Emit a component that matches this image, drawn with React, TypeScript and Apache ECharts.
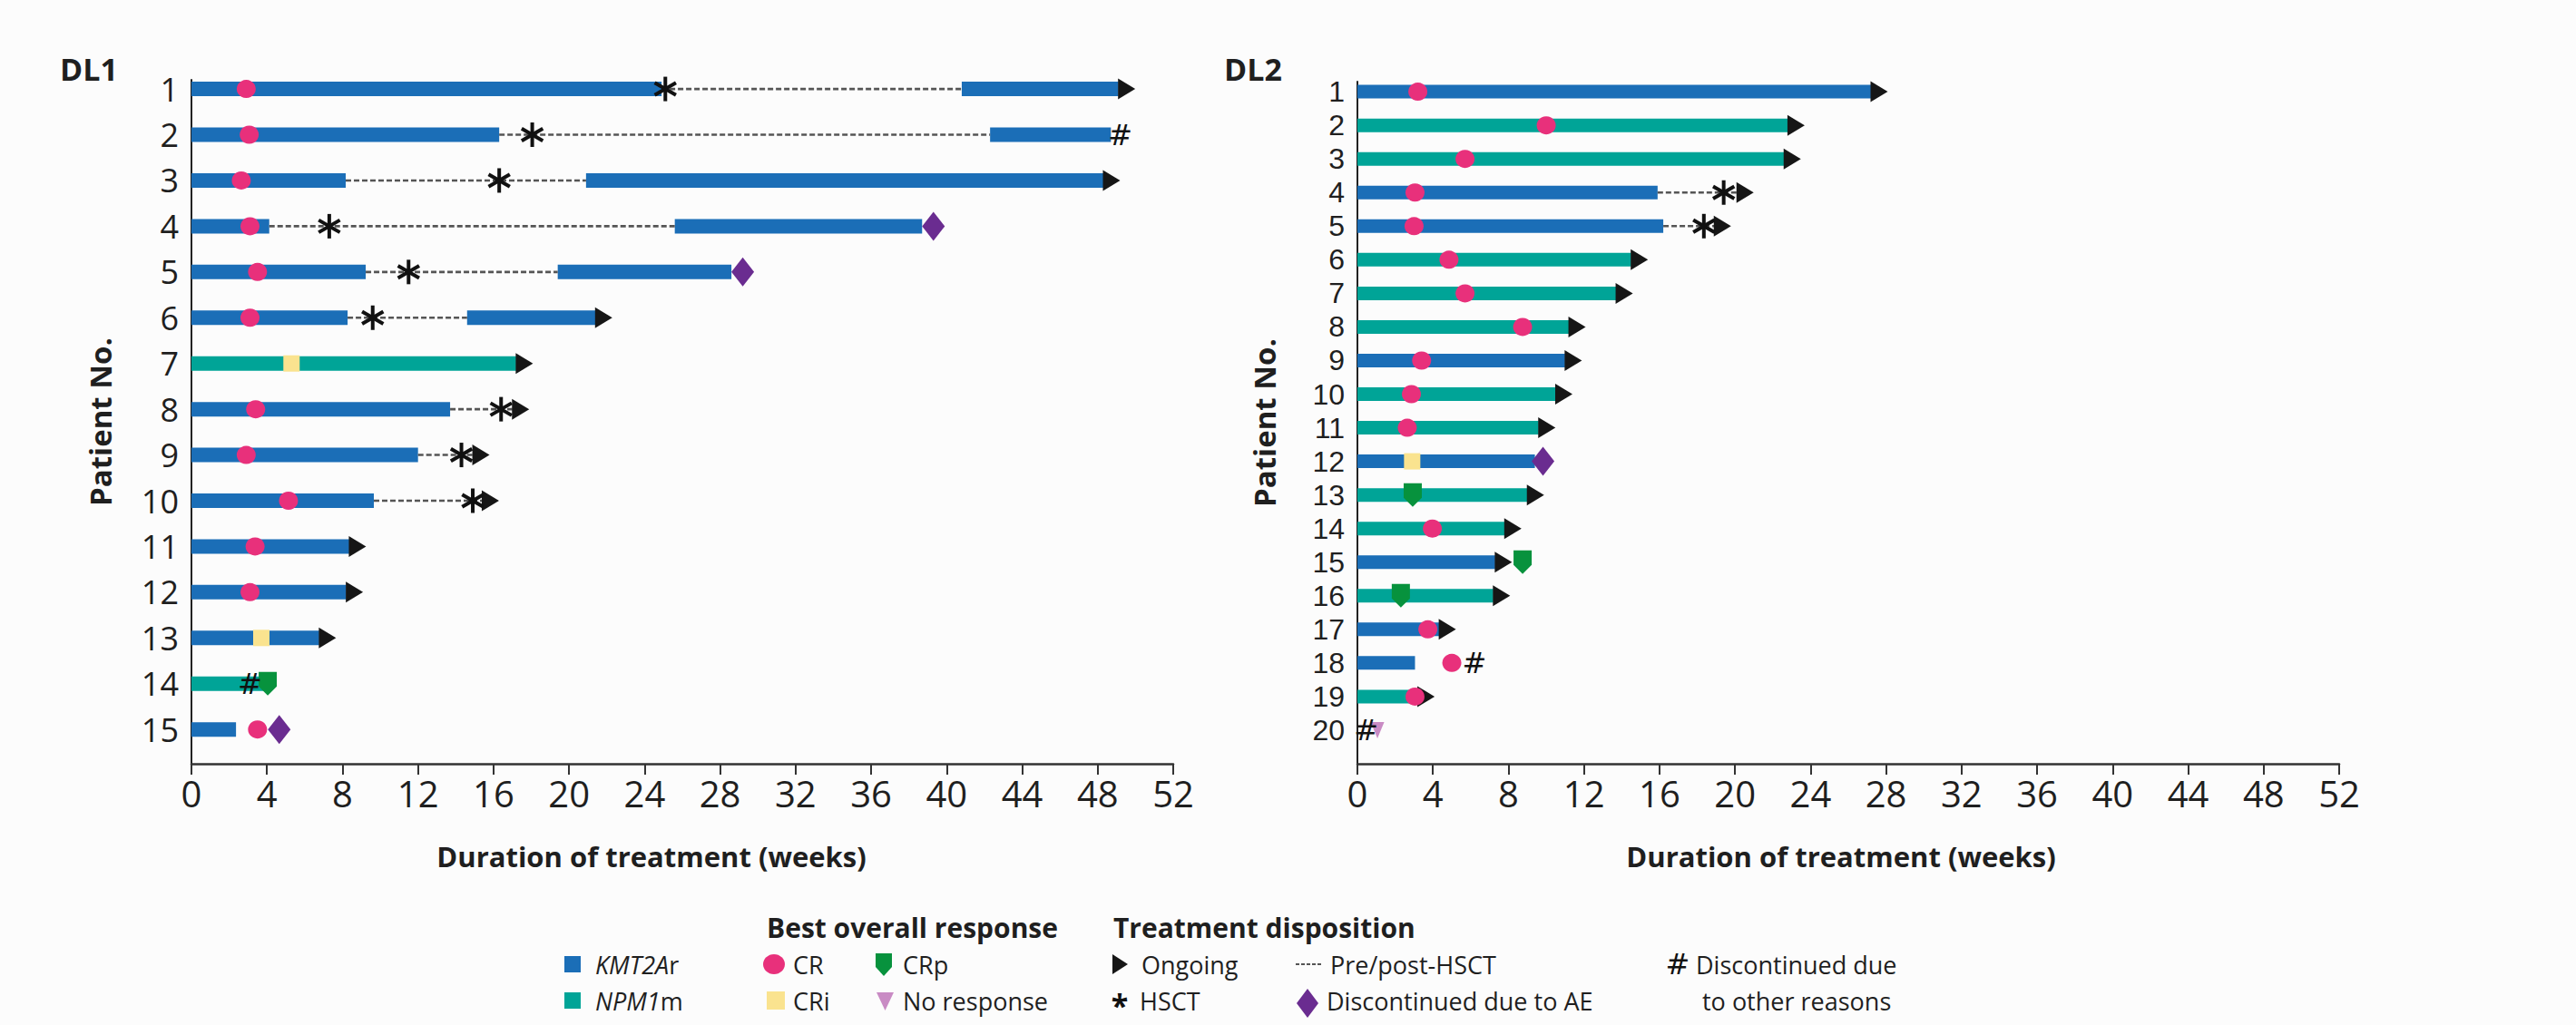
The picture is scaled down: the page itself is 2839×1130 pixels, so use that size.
import React, { useEffect, useRef } from "react";
import * as echarts from "echarts";

const FONT = '"Open Sans", "Noto Sans", sans-serif';
const TIGHT_FONT = '"Liberation Sans", Arial, sans-serif';

// ---------- axis data ----------
const dl1Patients = [1, 2, 3, 4, 5, 6, 7, 8, 9, 10, 11, 12, 13, 14, 15];
const dl2Patients = [1, 2, 3, 4, 5, 6, 7, 8, 9, 10, 11, 12, 13, 14, 15, 16, 17, 18, 19, 20];

// ---------- DL1 ----------
// treatment segments: [start week, end week, patient]
const dl1Kmt2a = [
  [0, 24.9, 1], [40.8, 49.1, 1],
  [0, 16.3, 2], [42.3, 48.7, 2],
  [0, 8.17, 3], [20.9, 48.3, 3],
  [0, 4.12, 4], [25.6, 38.7, 4],
  [0, 9.23, 5], [19.4, 28.6, 5],
  [0, 8.27, 6], [14.6, 21.4, 6],
  [0, 13.7, 8],
  [0, 12.0, 9],
  [0, 9.66, 10],
  [0, 8.36, 11],
  [0, 8.2, 12],
  [0, 6.77, 13],
  [0, 2.36, 15],
];
const dl1Npm1 = [
  [0, 17.2, 7],
  [0, 3.9, 14],
];
const dl1PrePostHsct = [
  [24.9, 40.8, 1], [16.3, 42.3, 2], [8.17, 20.9, 3], [4.12, 25.6, 4], [9.23, 19.4, 5],
  [8.27, 14.6, 6], [13.7, 17.0, 8], [12.0, 14.9, 9], [9.66, 15.4, 10],
];
// markers: [week, patient]
const dl1CR = [[2.9, 1], [3.06, 2], [2.64, 3], [3.1, 4], [3.5, 5], [3.1, 6], [3.4, 8], [2.9, 9], [5.14, 10], [3.37, 11], [3.1, 12], [3.5, 15]];
const dl1CRi = [[5.3, 7], [3.7, 13]];
const dl1CRp = [[4.04, 14]];
const dl1NoResponse: number[][] = [];
const dl1Ongoing = [[49.1, 1], [48.3, 3], [21.4, 6], [17.2, 7], [17.0, 8], [14.9, 9], [15.4, 10], [8.36, 11], [8.2, 12], [6.77, 13]];
const dl1HSCT = [[25.1, 1], [18.05, 2], [16.3, 3], [7.3, 4], [11.5, 5], [9.6, 6], [16.4, 8], [14.3, 9], [14.9, 10]];
const dl1AE = [[39.3, 4], [29.2, 5], [4.65, 15]];
const dl1Other = [[49.2, 2], [3.1, 14]];

// ---------- DL2 ----------
const dl2Kmt2a = [
  [0, 27.2, 1], [0, 15.9, 4], [0, 16.2, 5], [0, 11.0, 9], [0, 9.4, 12],
  [0, 7.3, 15], [0, 4.33, 17], [0, 3.05, 18],
];
const dl2Npm1 = [
  [0, 22.8, 2], [0, 22.6, 3], [0, 14.5, 6], [0, 13.7, 7], [0, 11.2, 8], [0, 10.5, 10],
  [0, 9.6, 11], [0, 9.0, 13], [0, 7.8, 14], [0, 7.2, 16], [0, 3.2, 19],
];
const dl2PrePostHsct = [[15.9, 20.1, 4], [16.2, 18.9, 5]];
const dl2CR = [[3.2, 1], [10.0, 2], [5.7, 3], [3.05, 4], [3.0, 5], [4.85, 6], [5.7, 7], [8.75, 8], [3.4, 9], [2.86, 10], [2.64, 11], [3.97, 14], [3.73, 17], [5.0, 18], [3.05, 19]];
const dl2CRi = [[2.9, 12]];
const dl2CRp = [[2.93, 13], [8.75, 15], [2.3, 16]];
const dl2NoResponse = [[1.06, 20]];
const dl2Ongoing = [[27.2, 1], [22.8, 2], [22.6, 3], [20.1, 4], [18.9, 5], [14.5, 6], [13.7, 7], [11.2, 8], [11.0, 9], [10.5, 10], [9.6, 11], [9.0, 13], [7.8, 14], [7.3, 15], [7.2, 16], [4.33, 17], [3.2, 19]];
const dl2HSCT = [[19.4, 4], [18.35, 5]];
const dl2AE = [[9.83, 12]];
const dl2Other = [[6.2, 18], [0.46, 20]];

// ---------- styles ----------
const C_KMT = "#1b6eb7";
const C_NPM = "#00a497";
const C_CR = "#e8307b";
const C_CRI = "#fae38f";
const C_CRP = "#07923d";
const C_NR = "#c98bc4";
const C_AE = "#6a2c90";
const C_ARROW = "#161616";
const C_TEXT = "#1f1f1f";
const C_DASH = "#555";

const ARROW_PATH = "path://M0,0 L10,6 L0,12 Z";
const CRP_PATH = "path://M0,0 L10,0 L10,8 L5,13 L0,8 Z";
const NR_PATH = "path://M0,0 L10,0 L5,12 Z";

function barRenderer(color: string, h: number) {
  return (params: any, api: any) => {
    const s = api.coord([api.value(0), api.value(2)]);
    const e = api.coord([api.value(1), api.value(2)]);
    return {
      type: "rect",
      shape: { x: s[0], y: s[1] - h / 2, width: e[0] - s[0], height: h },
      style: { fill: color },
    };
  };
}

function dashRenderer(params: any, api: any) {
  const s = api.coord([api.value(0), api.value(2)]);
  const e = api.coord([api.value(1), api.value(2)]);
  return {
    type: "line",
    shape: { x1: s[0], y1: s[1], x2: e[0], y2: e[1] },
    style: { stroke: C_DASH, lineWidth: 2.6, lineDash: [6, 3] },
  };
}

function asteriskRenderer(params: any, api: any) {
  const c = api.coord([api.value(0), api.value(1)]);
  const r = 13.5;
  const dx = r * Math.cos(Math.PI / 6);
  const dy = r * Math.sin(Math.PI / 6);
  const st = { stroke: "#111", lineWidth: 4 };
  return {
    type: "group",
    children: [
      { type: "line", shape: { x1: c[0], y1: c[1] - r, x2: c[0], y2: c[1] + r }, style: st },
      { type: "line", shape: { x1: c[0] - dx, y1: c[1] - dy, x2: c[0] + dx, y2: c[1] + dy }, style: st },
      { type: "line", shape: { x1: c[0] - dx, y1: c[1] + dy, x2: c[0] + dx, y2: c[1] - dy }, style: st },
    ],
  };
}

function hashRenderer(params: any, api: any) {
  const c = api.coord([api.value(0), api.value(1)]);
  return {
    type: "text",
    x: c[0],
    y: c[1],
    style: {
      text: "#",
      fill: "#111",
      fontSize: 32,
      fontFamily: '"DejaVu Sans", sans-serif',
      align: "center",
      verticalAlign: "middle",
    },
  };
}

function panelSeries(idx: number, d: any, barH: number) {
  const ax = { xAxisIndex: idx, yAxisIndex: idx };
  return [
    { type: "custom", name: "KMT2Ar", ...ax, data: d.kmt, encode: { x: [0, 1], y: 2 }, renderItem: barRenderer(C_KMT, barH), z: 2 },
    { type: "custom", name: "NPM1m", ...ax, data: d.npm, encode: { x: [0, 1], y: 2 }, renderItem: barRenderer(C_NPM, barH), z: 2 },
    { type: "custom", name: "Pre/post-HSCT", ...ax, data: d.dash, encode: { x: [0, 1], y: 2 }, renderItem: dashRenderer, z: 2 },
    { type: "scatter", name: "Ongoing", ...ax, data: d.ongoing, symbol: ARROW_PATH, symbolSize: [19, 23], symbolOffset: [9, 0], itemStyle: { color: C_ARROW, opacity: 1 }, z: 4 },
    { type: "scatter", name: "CR", ...ax, data: d.cr, symbol: "circle", symbolSize: [21, 20], itemStyle: { color: C_CR, opacity: 1 }, z: 5 },
    { type: "scatter", name: "CRi", ...ax, data: d.cri, symbol: "rect", symbolSize: [18, 18], itemStyle: { color: C_CRI, opacity: 1 }, z: 5 },
    { type: "scatter", name: "CRp", ...ax, data: d.crp, symbol: CRP_PATH, symbolSize: [20, 26], itemStyle: { color: C_CRP, opacity: 1 }, z: 5 },
    { type: "scatter", name: "No response", ...ax, data: d.nr, symbol: NR_PATH, symbolSize: [15, 18], itemStyle: { color: C_NR, opacity: 1 }, z: 5 },
    { type: "scatter", name: "Discontinued due to AE", ...ax, data: d.ae, symbol: "diamond", symbolSize: [25, 32], itemStyle: { color: C_AE, opacity: 1 }, z: 5 },
    { type: "custom", name: "HSCT", ...ax, data: d.hsct, encode: { x: 0, y: 1 }, renderItem: asteriskRenderer, z: 6 },
    { type: "custom", name: "Discontinued due to other reasons", ...ax, data: d.other, encode: { x: 0, y: 1 }, renderItem: hashRenderer, z: 6 },
  ];
}

function xAxisFor(idx: number, shiftLeft: number) {
  return {
    gridIndex: idx,
    type: "value",
    min: 0,
    max: 52,
    interval: 4,
    axisLine: { show: true, onZero: false, lineStyle: { color: "#333", width: 2.5 } },
    axisTick: { show: true, length: 12, lineStyle: { color: "#333", width: 2 } },
    axisLabel: { fontSize: 40, color: C_TEXT, fontFamily: FONT, margin: 12 },
    splitLine: { show: false },
    name: "Duration of treatment (weeks)",
    nameLocation: "middle",
    nameGap: 86,
    nameTextStyle: {
      fontSize: 31,
      fontWeight: "bold",
      color: C_TEXT,
      fontFamily: FONT,
      padding: [0, shiftLeft * 2, 0, 0],
    },
  };
}

function yAxisFor(idx: number, min: number, max: number, labels: number[], fs: number, ff: string) {
  return {
    gridIndex: idx,
    type: "value",
    inverse: true,
    min,
    max,
    axisLine: { show: true, onZero: false, lineStyle: { color: "#222", width: 2 } },
    axisTick: { show: false },
    splitLine: { show: false },
    axisLabel: { customValues: labels, fontSize: fs, lineHeight: fs, color: C_TEXT, fontFamily: ff, margin: 14 },
    name: "Patient No.",
    nameLocation: "middle",
    nameRotate: 90,
    nameGap: idx === 0 ? 84 : 86,
    nameTextStyle: { fontSize: 33, fontWeight: "bold", color: C_TEXT, fontFamily: FONT },
  };
}

const LF = 27;
function ltext(text: string, x: number, y: number, bold = false, rich?: any) {
  return {
    type: "text",
    x,
    y,
    style: {
      text,
      fill: C_TEXT,
      fontSize: bold ? 30 : LF,
      fontWeight: bold ? "bold" : "normal",
      fontFamily: FONT,
      verticalAlign: "middle",
      align: "left",
      rich,
    },
  };
}

const italicRich = { i: { fontStyle: "italic", fontSize: LF, fontFamily: FONT, fill: C_TEXT } };

const legendGraphics = [
  { type: "rect", shape: { x: 622, y: 1054, width: 18, height: 18 }, style: { fill: C_KMT } },
  ltext("{i|KMT2A}r", 656, 1063, false, italicRich),
  { type: "rect", shape: { x: 622, y: 1094, width: 18, height: 18 }, style: { fill: C_NPM } },
  ltext("{i|NPM1}m", 656, 1103, false, italicRich),
  ltext("Best overall response", 845, 1022, true),
  { type: "ellipse", shape: { cx: 853, cy: 1063, rx: 12, ry: 11 }, style: { fill: C_CR } },
  ltext("CR", 874, 1063),
  { type: "polygon", shape: { points: [[965, 1051], [983, 1051], [983, 1066], [974, 1076], [965, 1066]] }, style: { fill: C_CRP } },
  ltext("CRp", 995, 1063),
  { type: "rect", shape: { x: 845, y: 1093, width: 20, height: 20 }, style: { fill: C_CRI } },
  ltext("CRi", 874, 1103),
  { type: "polygon", shape: { points: [[966, 1094], [985, 1094], [975.5, 1114]] }, style: { fill: C_NR } },
  ltext("No response", 995, 1103),
  ltext("Treatment disposition", 1227, 1022, true),
  { type: "polygon", shape: { points: [[1226, 1052], [1243, 1063], [1226, 1074]] }, style: { fill: C_ARROW } },
  ltext("Ongoing", 1258, 1063),
  {
    type: "text",
    x: 1234,
    y: 1108,
    style: { text: "*", fill: "#111", fontSize: 34, fontWeight: "bold", fontFamily: FONT, align: "center", verticalAlign: "middle" },
  },
  ltext("HSCT", 1256, 1103),
  { type: "line", shape: { x1: 1428, y1: 1063, x2: 1458, y2: 1063 }, style: { stroke: C_DASH, lineWidth: 2, lineDash: [4, 2] } },
  ltext("Pre/post-HSCT", 1466, 1063),
  { type: "polygon", shape: { points: [[1441, 1090], [1453, 1106], [1441, 1122], [1429, 1106]] }, style: { fill: C_AE } },
  ltext("Discontinued due to AE", 1462, 1103),
  {
    type: "text",
    x: 1849,
    y: 1063,
    style: { text: "#", fill: "#111", fontSize: 32, fontFamily: '"DejaVu Sans", sans-serif', align: "center", verticalAlign: "middle" },
  },
  ltext("Discontinued due", 1869, 1063),
  ltext("to other reasons", 1876, 1103),
  {
    type: "text",
    x: 66,
    y: 76,
    style: { text: "DL1", fill: C_TEXT, fontSize: 34, fontWeight: "bold", fontFamily: FONT, verticalAlign: "middle" },
  },
  {
    type: "text",
    x: 1349,
    y: 76,
    style: { text: "DL2", fill: C_TEXT, fontSize: 34, fontWeight: "bold", fontFamily: FONT, verticalAlign: "middle" },
  },
];

export default function App() {
  const ref = useRef<HTMLDivElement>(null);
  useEffect(() => {
    if (!ref.current) return;
    const chart = echarts.init(ref.current, null, { renderer: "svg" });
    const d1 = { kmt: dl1Kmt2a, npm: dl1Npm1, dash: dl1PrePostHsct, cr: dl1CR, cri: dl1CRi, crp: dl1CRp, nr: dl1NoResponse, ongoing: dl1Ongoing, hsct: dl1HSCT, ae: dl1AE, other: dl1Other };
    const d2 = { kmt: dl2Kmt2a, npm: dl2Npm1, dash: dl2PrePostHsct, cr: dl2CR, cri: dl2CRi, crp: dl2CRp, nr: dl2NoResponse, ongoing: dl2Ongoing, hsct: dl2HSCT, ae: dl2AE, other: dl2Other };
    chart.setOption({
      animation: false,
      backgroundColor: "#fcfcfc",
      textStyle: { fontFamily: FONT },
      grid: [
        { left: 211, top: 88, width: 1082, height: 754, outerBoundsMode: "none" },
        { left: 1496, top: 90, width: 1082, height: 752, outerBoundsMode: "none" },
      ],
      xAxis: [xAxisFor(0, 34), xAxisFor(1, 8)],
      yAxis: [
        yAxisFor(0, 0.8, 15.75, dl1Patients, 36, FONT),
        yAxisFor(1, 0.7, 21, dl2Patients, 32, TIGHT_FONT),
      ],
      series: [...panelSeries(0, d1, 16), ...panelSeries(1, d2, 15)],
      graphic: legendGraphics,
    });
    return () => chart.dispose();
  }, []);
  return <div ref={ref} style={{ position: "absolute", left: 0, top: 0, width: 2839, height: 1130 }} />;
}
